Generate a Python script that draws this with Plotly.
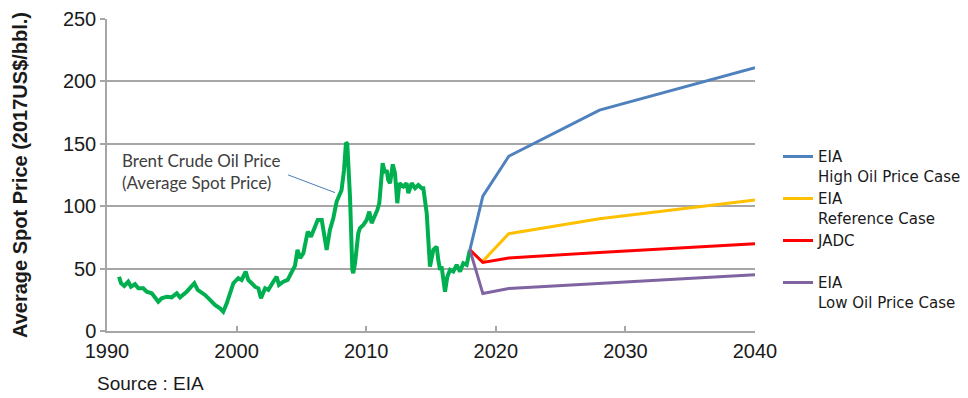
import plotly.graph_objects as go

# ---- Data ----
brent_years = [
    1990.93, 1991.08, 1991.33, 1991.64, 1991.85, 1992.16, 1992.42, 1992.8, 1993.06, 1993.45,
    1993.96, 1994.22, 1994.6, 1994.99, 1995.38, 1995.63, 1996.15, 1996.58, 1996.74, 1997.0,
    1997.31, 1997.56, 1997.95, 1998.33, 1998.72, 1998.97, 1999.24, 1999.5, 1999.75, 2000.13,
    2000.39, 2000.7, 2000.9, 2001.16, 2001.42, 2001.68, 2001.88, 2002.2, 2002.45, 2002.83,
    2003.09, 2003.27, 2003.6, 2003.94, 2004.25, 2004.5, 2004.7, 2004.9, 2005.15, 2005.49,
    2005.74, 2005.92, 2006.26, 2006.57, 2006.82, 2006.95, 2007.2, 2007.46, 2007.72, 2007.98,
    2008.1, 2008.29, 2008.44, 2008.54, 2008.75, 2008.93, 2009.0, 2009.14, 2009.39, 2009.52,
    2009.78, 2010.04, 2010.24, 2010.42, 2010.68, 2010.86, 2011.01, 2011.14, 2011.27, 2011.45,
    2011.58, 2011.7, 2011.84, 2012.05, 2012.22, 2012.4, 2012.56, 2012.87, 2013.12, 2013.25,
    2013.51, 2013.77, 2014.02, 2014.28, 2014.41, 2014.67, 2014.8, 2014.92, 2015.18, 2015.44,
    2015.56, 2015.7, 2015.82, 2015.95, 2016.08, 2016.26, 2016.47, 2016.72, 2016.98, 2017.24,
    2017.49, 2017.75, 2018.0,
]
brent_values = [
    43.5, 38.3, 36.1, 39.5, 35.5, 37.5, 34.2, 34.2, 31.5, 30.2,
    23.5, 26.2, 27.5, 27.0, 30.2, 27.0, 31.5, 36.9, 38.3, 32.9,
    30.7, 28.9, 24.9, 20.9, 18.2, 15.5, 22.2, 31.5, 38.3, 42.3,
    40.9, 47.6, 40.9, 38.3, 35.5, 34.2, 26.2, 34.2, 32.9, 39.5,
    43.5, 36.9, 39.5, 40.9, 47.6, 52.1, 65.0, 58.3, 62.3, 79.6,
    75.6, 81.0, 89.0, 89.0, 75.6, 65.0, 81.0, 90.4, 103.7, 109.0,
    113.0, 129.0, 151.0, 150.0, 107.7, 48.9, 46.3, 54.3, 78.3, 82.4,
    85.0, 89.0, 95.7, 86.4, 91.7, 97.0, 102.4, 123.7, 134.5, 126.5,
    129.0, 121.0, 118.4, 133.5, 126.5, 102.4, 118.4, 115.7, 118.4, 110.4,
    118.4, 114.4, 117.0, 114.4, 114.4, 94.4, 75.6, 51.6, 65.0, 67.6,
    57.0, 49.0, 51.6, 40.9, 31.5, 43.5, 49.0, 47.6, 53.0, 47.6,
    54.3, 53.0, 65.0,
]

high_years = [2018, 2019, 2021, 2028, 2040]
high_values = [65, 108, 140, 177, 211]

ref_years = [2019, 2021, 2028, 2040]
ref_values = [56, 78, 90, 105]

jadc_years = [2018, 2019, 2021, 2028, 2040]
jadc_values = [65, 55, 58.5, 63, 70]

low_years = [2018, 2019, 2021, 2028, 2040]
low_values = [65, 30, 34, 38, 45]

x_ticks = [1990, 2000, 2010, 2020, 2030, 2040]
y_ticks = [0, 50, 100, 150, 200, 250]

FONT = "Liberation Sans, Arial, sans-serif"
GRID = "#a6a6a6"

fig = go.Figure()

fig.add_trace(go.Scatter(
    x=brent_years, y=brent_values, mode="lines",
    line=dict(color="#00b050", width=4), showlegend=False, name="Brent",
))
fig.add_trace(go.Scatter(
    x=high_years, y=high_values, mode="lines",
    line=dict(color="#4f81bd", width=3), name="EIA<br>High Oil Price Case",
))
fig.add_trace(go.Scatter(
    x=ref_years, y=ref_values, mode="lines",
    line=dict(color="#ffc000", width=3), name="EIA<br>Reference Case",
))
fig.add_trace(go.Scatter(
    x=jadc_years, y=jadc_values, mode="lines",
    line=dict(color="#ff0000", width=3), name="JADC<br> ",
))
fig.add_trace(go.Scatter(
    x=low_years, y=low_values, mode="lines",
    line=dict(color="#8064a2", width=3), name="EIA<br>Low Oil Price Case",
))

# leader line for the Brent label
fig.add_shape(type="line", xref="x", yref="y",
              x0=2003.97, y0=125.1, x1=2007.59, y1=110.9,
              line=dict(color="#4a7ebb", width=1))

fig.add_annotation(
    x=1991.0, y=128, xref="x", yref="y", xanchor="left", yanchor="middle",
    text="Brent Crude Oil Price<br>(Average Spot Price)", showarrow=False, align="left",
    font=dict(family="Lato, Carlito, sans-serif", size=17, color="#404040"),
)

fig.add_annotation(
    x=-0.0185, y=-0.167, xref="paper", yref="paper", xanchor="left", yanchor="middle",
    text="Source : EIA", showarrow=False,
    font=dict(family=FONT, size=19, color="#1a1a1a"),
)

fig.update_layout(
    width=968, height=398,
    margin=dict(l=107, r=213, t=19, b=67, autoexpand=False),
    paper_bgcolor="white", plot_bgcolor="white",
    font=dict(family=FONT, color="#1a1a1a"),
    legend=dict(
        x=1.0355, y=0.611, xanchor="left", yanchor="top",
        font=dict(family="DejaVu Sans, Verdana, sans-serif", size=15, color="#1a1a1a"),
        valign="top", tracegroupgap=0, bgcolor="rgba(0,0,0,0)",
    ),
    xaxis=dict(
        range=[1990, 2040], tickvals=x_ticks, ticktext=[str(v) for v in x_ticks],
        showgrid=False, zeroline=False,
        showline=True, linecolor=GRID, linewidth=1.5,
        ticks="inside", ticklen=5, tickcolor=GRID, tickwidth=1.5,
        tickfont=dict(size=20, color="#1a1a1a"), ticklabelstandoff=1,
    ),
    yaxis=dict(
        range=[0, 250], tickvals=y_ticks,
        showgrid=True, gridcolor=GRID, gridwidth=1.5, zeroline=False,
        showline=True, linecolor=GRID, linewidth=1.5,
        ticks="outside", ticklen=5, tickcolor=GRID, tickwidth=1.5,
        tickfont=dict(size=20, color="#1a1a1a"),
        title=dict(text="<b>Average Spot Price (2017US$/bbl.)</b>", standoff=30,
                   font=dict(size=20, color="#1a1a1a")),
    ),
)

fig.write_html("out.html")
